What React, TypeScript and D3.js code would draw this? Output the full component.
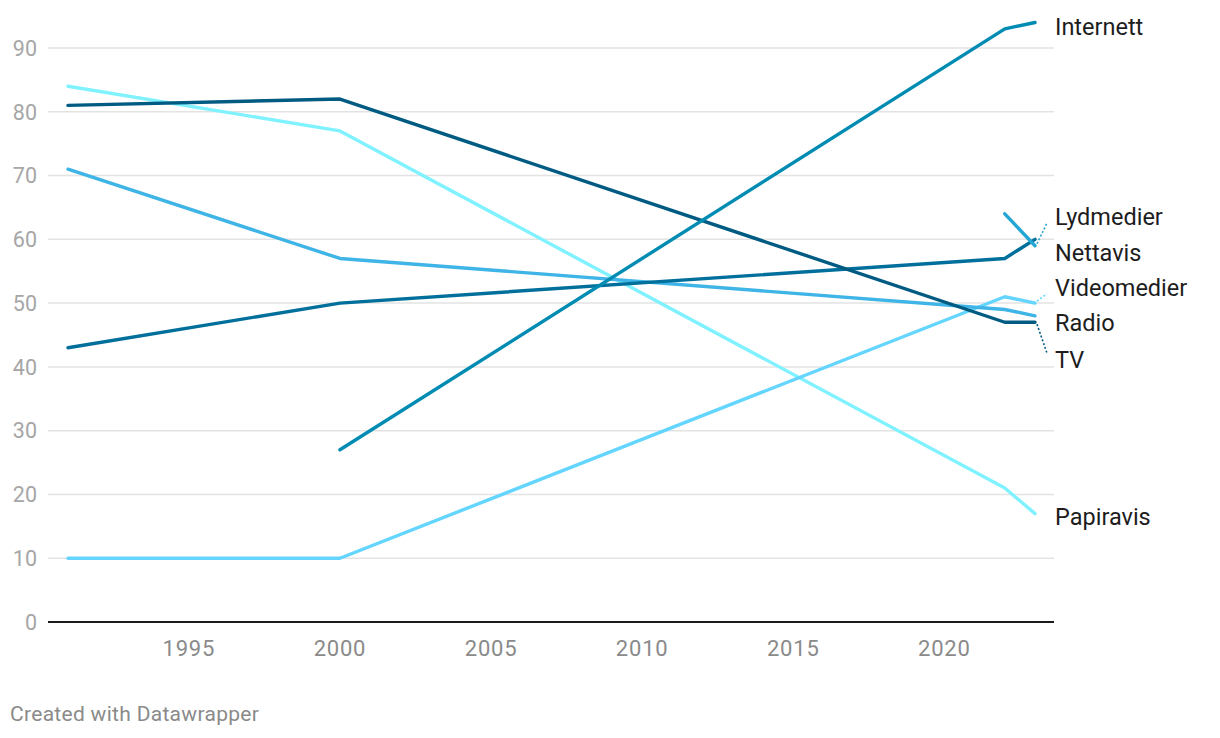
import React from "react";
import * as d3 from "d3";

const years = [1991, 2000, 2022, 2023];
const papiravis = [84, 77, 21, 17];
const videomedier = [10, 10, 51, 50];
const radio = [71, 57, 49, 48];
const nettavis = [43, 50, 57, 60];
const tv = [81, 82, 47, 47];
const internett = [null, 27, 93, 94];
const lydmedier = [null, null, 64, 59];

const yTicks = [0, 10, 20, 30, 40, 50, 60, 70, 80, 90];
const xTicks = [1995, 2000, 2005, 2010, 2015, 2020];

const seriesList = [
  { name: "Papiravis", values: papiravis, color: "#80f2ff", labelY: 16.5, dotted: false },
  { name: "Videomedier", values: videomedier, color: "#63d5ff", labelY: 52.4, dotted: true },
  { name: "Radio", values: radio, color: "#3fb4e6", labelY: 46.9, dotted: false },
  { name: "Nettavis", values: nettavis, color: "#006f9c", labelY: 57.9, dotted: false },
  { name: "TV", values: tv, color: "#005b82", labelY: 41.2, dotted: true },
  { name: "Lydmedier", values: lydmedier, color: "#24a6d4", labelY: 63.5, dotted: true },
  { name: "Internett", values: internett, color: "#008bb3", labelY: 93.4, dotted: false },
];

export default function App() {
  const W = 1220, H = 738;
  const x = d3.scaleLinear().domain([1991, 2023]).range([68, 1035]);
  const y = d3.scaleLinear().domain([0, 90]).range([622, 48]);
  const gridX0 = 48, gridX1 = 1054;
  const font = "Roboto, 'Noto Sans', sans-serif";

  const line = d3
    .line<[number, number | null]>()
    .defined((d) => d[1] != null)
    .x((d) => x(d[0]))
    .y((d) => y(d[1] as number));

  return (
    <svg width={W} height={H} style={{ position: "absolute", left: 0, top: 0, background: "#fff" }}>
      {yTicks.map((t) => (
        <g key={t}>
          {t !== 0 && (
            <line x1={gridX0} x2={gridX1} y1={y(t)} y2={y(t)} stroke="#e3e3e3" strokeWidth={1.5} />
          )}
          <text x={37} y={y(t)} dy="0.36em" textAnchor="end" fontFamily={font} fontSize={21.5} fill="#a6a6a6">
            {t}
          </text>
        </g>
      ))}
      <line x1={gridX0} x2={gridX1} y1={y(0)} y2={y(0)} stroke="#1a1a1a" strokeWidth={2} />
      {xTicks.map((t) => (
        <text key={t} x={x(t)} y={656} textAnchor="middle" fontFamily={font} fontSize={22} letterSpacing={0.8} fill="#8a8a8a">
          {t}
        </text>
      ))}
      {seriesList.map((s) => {
        const pts = years.map((yr, i) => [yr, s.values[i]] as [number, number | null]);
        const lastV = s.values[s.values.length - 1] as number;
        const lx = x(2023);
        const ly = y(lastV);
        const ty = y(s.labelY);
        const dir = ty > ly ? 1 : -1;
        return (
          <g key={s.name}>
            <path d={line(pts) || ""} fill="none" stroke={s.color} strokeWidth={3.4} strokeLinejoin="round" strokeLinecap="round" />
            {s.dotted && (
              <line x1={lx + 2} y1={ly + dir * 2} x2={lx + 12} y2={ty - dir * 6} stroke={s.color} strokeWidth={1.6} strokeDasharray="2,2" />
            )}
          </g>
        );
      })}
      {seriesList.map((s) => (
        <text key={s.name} x={1055} y={y(s.labelY)} dy="0.36em" fontFamily={font} fontSize={23.5} fill="#1d1d1d">
          {s.name}
        </text>
      ))}
      <text x={10} y={721} fontFamily={font} fontSize={21} letterSpacing={0.3} fill="#8a8a8a">
        Created with Datawrapper
      </text>
    </svg>
  );
}
